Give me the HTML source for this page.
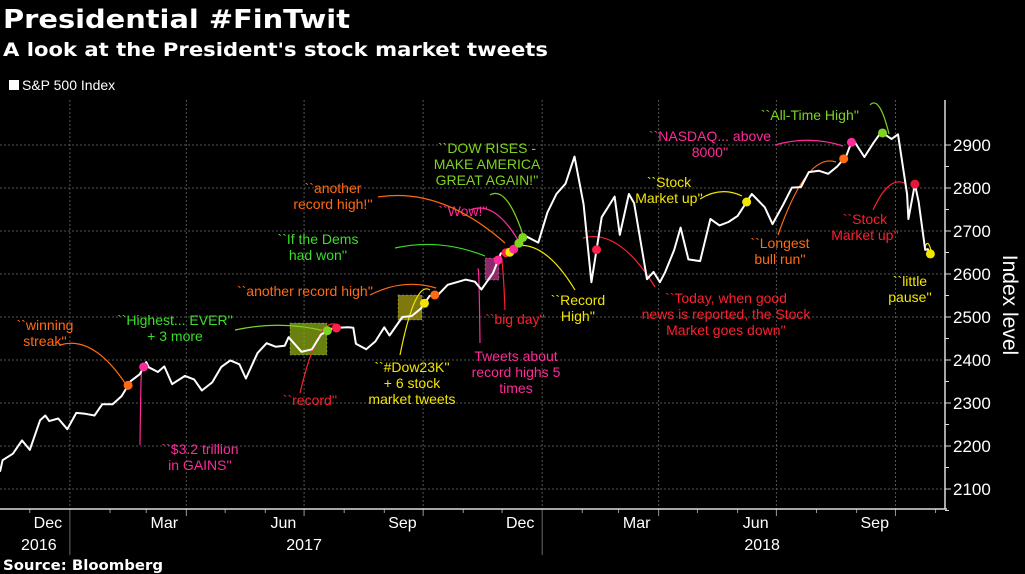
<!DOCTYPE html>
<html><head><meta charset="utf-8"><style>
html,body{margin:0;padding:0;background:#000;}
svg{display:block;font-family:"Liberation Sans",sans-serif;}
</style></head><body>
<svg id="chart" width="1025" height="574" viewBox="0 0 1025 574" xmlns="http://www.w3.org/2000/svg">
<rect width="1025" height="574" fill="#000"/>
<text x="3" y="28" fill="#fff" font-family="DejaVu Sans, sans-serif" font-weight="bold" font-size="26" textLength="347" lengthAdjust="spacingAndGlyphs">Presidential #FinTwit</text>
<text x="3" y="56" fill="#fff" font-family="DejaVu Sans, sans-serif" font-weight="bold" font-size="19" textLength="545" lengthAdjust="spacingAndGlyphs">A look at the President's stock market tweets</text>
<rect x="9" y="80" width="10" height="10" fill="#fff"/>
<text x="22" y="90" fill="#fff" font-size="14">S&amp;P 500 Index</text>
<g id="grid"></g>
<g id="axes"></g>
<g id="notes"></g>
<g id="series"></g>
<g id="dots"></g>
<text x="0" y="0" transform="translate(1003,305) rotate(90)" text-anchor="middle" fill="#fff" font-size="21">Index level</text>
<text x="3" y="570" fill="#fff" font-family="DejaVu Sans, sans-serif" font-weight="bold" font-size="14" textLength="160" lengthAdjust="spacingAndGlyphs">Source: Bloomberg</text>
</svg>
<script>
const dates = ["2016-11-08","2016-11-10","2016-11-18","2016-11-25","2016-12-01","2016-12-09","2016-12-13","2016-12-16","2016-12-23","2016-12-30",
"2017-01-06","2017-01-13","2017-01-20","2017-01-26","2017-02-03","2017-02-10","2017-02-17","2017-02-24","2017-03-01","2017-03-03","2017-03-10","2017-03-15","2017-03-21","2017-03-31","2017-04-07","2017-04-13","2017-04-21","2017-04-28","2017-05-05","2017-05-12","2017-05-17","2017-05-26","2017-06-02","2017-06-09","2017-06-16","2017-06-19","2017-06-29","2017-07-07","2017-07-14","2017-07-21","2017-07-27","2017-08-04","2017-08-08","2017-08-10","2017-08-18","2017-08-25","2017-09-01","2017-09-05","2017-09-15","2017-09-22","2017-09-29","2017-10-06","2017-10-13","2017-10-20","2017-10-27","2017-11-03","2017-11-10","2017-11-15","2017-11-24","2017-11-30","2017-12-08","2017-12-15","2017-12-18","2017-12-29",
"2018-01-05","2018-01-12","2018-01-19","2018-01-26","2018-02-02","2018-02-08","2018-02-16","2018-02-26","2018-03-02","2018-03-09","2018-03-13","2018-03-23","2018-03-28","2018-04-02","2018-04-06","2018-04-13","2018-04-18","2018-04-24","2018-05-03","2018-05-11","2018-05-18","2018-05-25","2018-06-01","2018-06-12","2018-06-22","2018-06-28","2018-07-06","2018-07-13","2018-07-20","2018-07-26","2018-08-03","2018-08-10","2018-08-17","2018-08-24","2018-08-29","2018-09-07","2018-09-14","2018-09-20","2018-09-28","2018-10-03","2018-10-10","2018-10-11","2018-10-16","2018-10-19","2018-10-24","2018-10-26","2018-10-29"];
const values = [2140,2167,2182,2213,2191,2260,2271,2258,2264,2239,
2277,2275,2271,2297,2297,2316,2351,2367,2395,2383,2372,2385,2344,2363,2355,2329,2348,2384,2399,2390,2357,2416,2439,2431,2433,2453,2419,2425,2459,2472,2475,2476,2475,2438,2425,2443,2476,2457,2500,2502,2519,2549,2553,2575,2581,2587,2582,2564,2602,2648,2651,2675,2690,2673,
2743,2786,2810,2873,2762,2581,2732,2780,2691,2786,2765,2588,2605,2581,2604,2656,2708,2634,2630,2728,2713,2721,2735,2786,2755,2716,2760,2801,2802,2837,2840,2833,2850,2875,2914,2872,2905,2930,2914,2925,2785,2728,2809,2767,2656,2658,2641];
const yTicks = [2100,2200,2300,2400,2500,2600,2700,2800,2900];
const monthLabels = ["Dec","Mar","Jun","Sep","Dec","Mar","Jun","Sep"];
const monthLabelDates = ["2016-12-15","2017-03-15","2017-06-15","2017-09-15","2017-12-15","2018-03-15","2018-06-15","2018-09-15"];
const yearLabels = ["2016","2017","2018"];
const yearLabelDates = ["2016-12-08","2017-07-01","2018-06-20"];
const markerDates = ["2017-02-15","2017-02-27","2017-07-19","2017-07-26","2017-10-02","2017-10-10","2017-11-28","2017-12-04","2017-12-07","2017-12-10","2017-12-14","2017-12-17","2018-02-12","2018-06-08","2018-08-22","2018-08-28","2018-09-21","2018-10-16","2018-10-28"];
const markerColors = ["#ff6a13","#ff2a9a","#7ed321","#ff1f4b","#f2e600","#ff6a13","#ff2a9a","#ff1f4b","#f2e600","#ff2a9a","#7ed321","#7ed321","#ff1f4b","#f2e600","#ff6a13","#ff2a9a","#7ed321","#e8173a","#f2e600"];

const NS="http://www.w3.org/2000/svg";
const T0=Date.parse("2016-11-08");
function xScale(d){return ((Date.parse(d)-T0)/86400000)*1.294;}
function yScale(v){return 145+(2900-v)*0.43;}
function mk(tag,attrs,parent){const e=document.createElementNS(NS,tag);for(const k in attrs)e.setAttribute(k,attrs[k]);parent.appendChild(e);return e;}
function valAt(d){const t=Date.parse(d);for(let i=1;i<dates.length;i++){const a=Date.parse(dates[i-1]),b=Date.parse(dates[i]);if(t<=b){const f=(t-a)/(b-a);return values[i-1]+f*(values[i]-values[i-1]);}}return values[values.length-1];}

const grid=document.getElementById('grid'),axes=document.getElementById('axes');
yTicks.forEach(v=>{
  const y=yScale(v);
  const l=mk('line',{x1:0,x2:945,y1:y,y2:y,stroke:'#555','stroke-dasharray':'2,2','stroke-width':1},grid);
  
  
  const t=mk('line',{x1:945,x2:951,y1:y,y2:y,stroke:'#ddd'},axes);
  
  
  const tx=mk('text',{x:953,y:y+6,fill:'#fff','font-size':17},axes);
  tx.textContent=v;
  
  
  const m=mk('line',{x1:945,x2:949,y1:y+21.5,y2:y+21.5,stroke:'#ddd'},axes);
  
  
});
for(let yr=2016;yr<=2018;yr++){for(let mo=0;mo<12;mo++){
  const d=yr+'-'+String(mo+1).padStart(2,'0')+'-01';const x=xScale(d);
  if(x<0||x>945)continue;
  if(mo%3===0){const g=mk('line',{x1:x,x2:x,y1:100,y2:509,stroke:'#555','stroke-dasharray':'2,2'},grid);
    
    }
  const t=mk('line',{x1:x,x2:x,y1:509,y2:mo===0?555:(mo%3===0?516:513),stroke:mo===0?'#666':'#999'},axes);
  
  
}}
const ax=mk('line',{x1:0,x2:947,y1:509,y2:509,stroke:'#ddd','stroke-width':1.5},axes);


const ay=mk('line',{x1:945,x2:945,y1:100,y2:509,stroke:'#ddd','stroke-width':1.5},axes);


monthLabels.forEach((m,i)=>{const t=mk('text',{x:xScale(monthLabelDates[i]),y:528,fill:'#fff','font-size':16,'text-anchor':'middle'},axes);t.textContent=m;
  
  });
yearLabels.forEach((m,i)=>{const t=mk('text',{x:xScale(yearLabelDates[i]),y:550,fill:'#fff','font-size':16,'text-anchor':'middle'},axes);t.textContent=m;
  
  });

const notes=document.getElementById('notes');
[[290,323,37,32,'rgba(140,170,20,0.75)','highest-ever-box'],[398,295,24,25,'rgba(170,160,20,0.75)','dow23k-box'],[485,258,14,22,'rgba(200,60,150,0.7)','record-highs-box']].forEach(b=>{
  const r=mk('rect',{x:b[0],y:b[1],width:b[2],height:b[3],fill:b[4],stroke:'rgba(255,255,255,0.25)','stroke-dasharray':'2,2'},notes);
  
  
});
const pts=dates.map((d,i)=>xScale(d).toFixed(1)+','+yScale(values[i]).toFixed(1)).join(' ');
const pl=mk('polyline',{points:pts,fill:'none',stroke:'#fff','stroke-width':2,'stroke-linejoin':'round'},document.getElementById('series'));


markerDates.forEach((d,i)=>{const c=mk('circle',{cx:xScale(d),cy:yScale(valAt(d)),r:4.5,fill:markerColors[i]},document.getElementById('dots'));
  
  });

const labels=[
 [45,330,'#ff6a13',["``winning","streak''"]],
 [175,325,'#3ddc2a',["``Highest... EVER''","+ 3 more"]],
 [200,454,'#ff2a9a',["``$3.2 trillion","in GAINS''"]],
 [310,405,'#ff1f30',["``record''"]],
 [305,296,'#ff6a13',["``another record high''"]],
 [318,244,'#3ddc2a',["``If the Dems","had won''"]],
 [333,193,'#ff6a13',["``another","record high!''"]],
 [463,216,'#ff2a9a',["``Wow!''"]],
 [487,153,'#7ed321',["``DOW RISES -","MAKE AMERICA","GREAT AGAIN!''"]],
 [412,372,'#f2e600',["``#Dow23K''","+ 6 stock","market tweets"]],
 [515,324,'#ff1f30',["``big day''"]],
 [516,361,'#ff2a9a',["Tweets about","record highs 5","times"]],
 [578,305,'#f2e600',["``Record","High''"]],
 [726,303,'#ff1f30',["``Today, when good","news is reported, the Stock","Market goes down''"]],
 [669,187,'#f2e600',["``Stock","Market up''"]],
 [710,141,'#ff2a9a',["``NASDAQ... above","8000''"]],
 [780,248,'#ff6a13',["``Longest","bull run''"]],
 [810,120,'#7ed321',["``All-Time High''"]],
 [865,224,'#ff1f30',["``Stock","Market up''"]],
 [910,286,'#f2e600',["``little","pause''"]]
];
labels.forEach(l=>{l[3].forEach((s,j)=>{const t=mk('text',{x:l[0],y:l[1]+j*16,fill:l[2],'font-size':14,'text-anchor':'middle'},notes);t.textContent=s;
  
  });});
const conns=[
 [60,345,125,383,'#ff6a13'],[140,445,142,370,'#ff2a9a'],[235,330,325,331,'#7ed321'],[300,393,337,325,'#ff1f30'],
 [370,295,436,288,'#ff6a13'],[395,248,485,256,'#3ddc2a'],[378,197,505,243,'#ff6a13'],[470,210,518,240,'#ff2a9a'],
 [490,195,524,238,'#7ed321'],[400,355,430,290,'#f2e600'],[505,310,500,258,'#ff1f30'],[480,343,478,270,'#ff2a9a'],
 [575,290,511,247,'#f2e600'],[655,287,583,238,'#ff1f30'],[700,199,742,196,'#f2e600'],[775,145,843,146,'#ff2a9a'],
 [778,235,836,162,'#ff6a13'],[870,105,889,134,'#7ed321'],[873,210,906,184,'#ff1f30'],[932,255,925,247,'#f2e600']];
conns.forEach(c=>{const mx=(c[0]+c[2])/2,my=Math.min(c[1],c[3])-10;
  const p=mk('path',{d:`M${c[0]},${c[1]} Q${mx},${my} ${c[2]},${c[3]}`,fill:'none',stroke:c[4],'stroke-width':1.2},notes);
  
  });
</script>
</body></html>
